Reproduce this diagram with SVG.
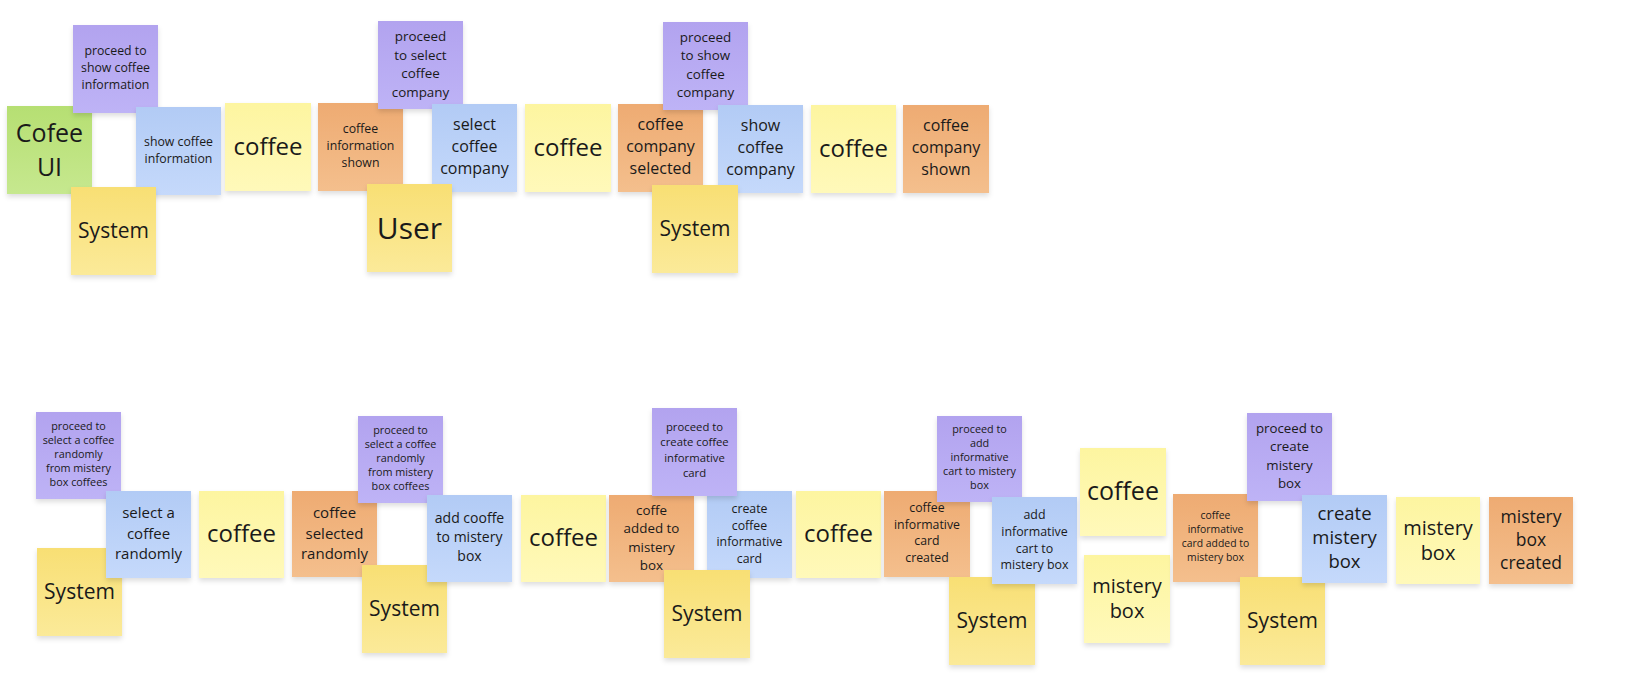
<svg xmlns="http://www.w3.org/2000/svg" width="1632" height="692" viewBox="0 0 1632 692">
<style>
text{font-family:"Open Sans","Noto Sans","Liberation Sans",sans-serif;fill:#1a1a1a;text-anchor:middle}
.n{filter:url(#sh)}
.y{fill:url(#gY)}.s{fill:url(#gS)}.g{fill:url(#gG)}.p{fill:url(#gP)}.b{fill:url(#gB)}.o{fill:url(#gO)}
</style>
<defs>
<filter id="sh" x="-20%" y="-20%" width="140%" height="150%"><feDropShadow dx="0" dy="3" stdDeviation="2.5" flood-color="#000" flood-opacity="0.13"/></filter>
<linearGradient id="gY" x1="0" y1="0" x2="0" y2="1"><stop offset="0" stop-color="#fdf5a0"/><stop offset="1" stop-color="#fff9ba"/></linearGradient>
<linearGradient id="gS" x1="0" y1="0" x2="0" y2="1"><stop offset="0" stop-color="#f8df74"/><stop offset="1" stop-color="#fbea99"/></linearGradient>
<linearGradient id="gG" x1="0" y1="0" x2="0" y2="1"><stop offset="0" stop-color="#b6df72"/><stop offset="1" stop-color="#c6e88f"/></linearGradient>
<linearGradient id="gP" x1="0" y1="0" x2="0" y2="1"><stop offset="0" stop-color="#b2a3ef"/><stop offset="1" stop-color="#beb3f6"/></linearGradient>
<linearGradient id="gB" x1="0" y1="0" x2="0" y2="1"><stop offset="0" stop-color="#b2cbf5"/><stop offset="1" stop-color="#c5d9fb"/></linearGradient>
<linearGradient id="gO" x1="0" y1="0" x2="0" y2="1"><stop offset="0" stop-color="#eeab72"/><stop offset="1" stop-color="#f4bf8d"/></linearGradient>
</defs>
<rect width="1632" height="692" fill="#ffffff"/>
<g id="connectors"/>

<g id="n-cofee-ui"><rect class="n g" x="7" y="106" width="85" height="88"/><text font-size="25"><tspan x="49.5" y="141.5">Cofee</tspan><tspan x="49.5" y="175.5">UI</tspan></text></g>
<g id="n-proceed-show-info"><rect class="n p" x="73" y="25" width="85" height="88"/><text font-size="12.3"><tspan x="115.5" y="55">proceed to</tspan><tspan x="115.5" y="72">show coffee</tspan><tspan x="115.5" y="89">information</tspan></text></g>
<g id="n-show-info"><rect class="n b" x="136" y="107" width="85" height="88"/><text font-size="12.3"><tspan x="178.5" y="146">show coffee</tspan><tspan x="178.5" y="163">information</tspan></text></g>
<g id="n-system-1"><rect class="n s" x="71" y="187" width="85" height="88"/><text font-size="21" x="113.5" y="238">System</text></g>
<g id="n-coffee-1"><rect class="n y" x="225" y="103" width="86" height="88"/><text font-size="24" x="268" y="155">coffee</text></g>

<g id="n-info-shown"><rect class="n o" x="318" y="103" width="85" height="88"/><text font-size="12.3"><tspan x="360.5" y="132.5">coffee</tspan><tspan x="360.5" y="149.5">information</tspan><tspan x="360.5" y="166.5">shown</tspan></text></g>
<g id="n-proceed-select-company"><rect class="n p" x="378" y="21" width="85" height="88"/><text font-size="13.4"><tspan x="420.5" y="41">proceed</tspan><tspan x="420.5" y="59.5">to select</tspan><tspan x="420.5" y="78">coffee</tspan><tspan x="420.5" y="96.5">company</tspan></text></g>
<g id="n-select-company"><rect class="n b" x="432" y="104" width="85" height="88"/><text font-size="16"><tspan x="474.5" y="130">select</tspan><tspan x="474.5" y="152">coffee</tspan><tspan x="474.5" y="174">company</tspan></text></g>
<g id="n-user"><rect class="n s" x="367" y="184" width="85" height="88"/><text font-size="30" x="409.5" y="239">User</text></g>
<g id="n-coffee-2"><rect class="n y" x="525" y="104" width="86" height="88"/><text font-size="24" x="568" y="156">coffee</text></g>

<g id="n-company-selected"><rect class="n o" x="618" y="104" width="85" height="88"/><text font-size="16"><tspan x="660.5" y="130">coffee</tspan><tspan x="660.5" y="152">company</tspan><tspan x="660.5" y="174">selected</tspan></text></g>
<g id="n-proceed-show-company"><rect class="n p" x="663" y="22" width="85" height="88"/><text font-size="13.4"><tspan x="705.5" y="42">proceed</tspan><tspan x="705.5" y="60.3">to show</tspan><tspan x="705.5" y="78.6">coffee</tspan><tspan x="705.5" y="96.9">company</tspan></text></g>
<g id="n-show-company"><rect class="n b" x="718" y="105" width="85" height="88"/><text font-size="16"><tspan x="760.5" y="131">show</tspan><tspan x="760.5" y="153">coffee</tspan><tspan x="760.5" y="175">company</tspan></text></g>
<g id="n-system-2"><rect class="n s" x="652" y="185" width="86" height="88"/><text font-size="21" x="695" y="236">System</text></g>
<g id="n-coffee-3"><rect class="n y" x="811" y="105" width="85" height="88"/><text font-size="24" x="853.5" y="157">coffee</text></g>
<g id="n-company-shown"><rect class="n o" x="903" y="105" width="86" height="88"/><text font-size="16"><tspan x="946" y="131">coffee</tspan><tspan x="946" y="153">company</tspan><tspan x="946" y="175">shown</tspan></text></g>

<g id="n-proceed-random-1"><rect class="n p" x="36" y="412" width="85" height="87"/><text font-size="10.8"><tspan x="78.5" y="430">proceed to</tspan><tspan x="78.5" y="444">select a coffee</tspan><tspan x="78.5" y="458">randomly</tspan><tspan x="78.5" y="472">from mistery</tspan><tspan x="78.5" y="486">box coffees</tspan></text></g>
<g id="n-system-3"><rect class="n s" x="37" y="548" width="85" height="88"/><text font-size="21" x="79.5" y="599">System</text></g>
<g id="n-select-random"><rect class="n b" x="106" y="491" width="85" height="87"/><text font-size="15"><tspan x="148.5" y="518">select a</tspan><tspan x="148.5" y="538.5">coffee</tspan><tspan x="148.5" y="559">randomly</tspan></text></g>
<g id="n-coffee-4"><rect class="n y" x="199" y="491" width="85" height="87"/><text font-size="24" x="241.5" y="542">coffee</text></g>

<g id="n-selected-random"><rect class="n o" x="292" y="491" width="85" height="86"/><text font-size="15"><tspan x="334.5" y="518">coffee</tspan><tspan x="334.5" y="538.5">selected</tspan><tspan x="334.5" y="559">randomly</tspan></text></g>
<g id="n-proceed-random-2"><rect class="n p" x="358" y="416" width="85" height="87"/><text font-size="10.8"><tspan x="400.5" y="434">proceed to</tspan><tspan x="400.5" y="448">select a coffee</tspan><tspan x="400.5" y="462">randomly</tspan><tspan x="400.5" y="476">from mistery</tspan><tspan x="400.5" y="490">box coffees</tspan></text></g>
<g id="n-system-4"><rect class="n s" x="362" y="565" width="85" height="88"/><text font-size="21" x="404.5" y="616">System</text></g>
<g id="n-add-coffee"><rect class="n b" x="427" y="495" width="85" height="87"/><text font-size="14"><tspan x="469.5" y="523">add cooffe</tspan><tspan x="469.5" y="542">to mistery</tspan><tspan x="469.5" y="561">box</tspan></text></g>
<g id="n-coffee-5"><rect class="n y" x="521" y="495" width="85" height="87"/><text font-size="24" x="563.5" y="546">coffee</text></g>

<g id="n-coffe-added"><rect class="n o" x="609" y="495" width="85" height="87"/><text font-size="13.4"><tspan x="651.5" y="515">coffe</tspan><tspan x="651.5" y="533.3">added to</tspan><tspan x="651.5" y="551.6">mistery</tspan><tspan x="651.5" y="569.9">box</tspan></text></g>
<g id="n-create-card"><rect class="n b" x="707" y="491" width="85" height="87"/><text font-size="12.3"><tspan x="749.5" y="513">create</tspan><tspan x="749.5" y="529.7">coffee</tspan><tspan x="749.5" y="546.4">informative</tspan><tspan x="749.5" y="563.1">card</tspan></text></g>
<g id="n-proceed-card"><rect class="n p" x="652" y="408" width="85" height="88"/><text font-size="11.3"><tspan x="694.5" y="431">proceed to</tspan><tspan x="694.5" y="446.3">create coffee</tspan><tspan x="694.5" y="461.6">informative</tspan><tspan x="694.5" y="476.9">card</tspan></text></g>
<g id="n-system-5"><rect class="n s" x="664" y="570" width="86" height="88"/><text font-size="21" x="707" y="621">System</text></g>
<g id="n-coffee-6"><rect class="n y" x="796" y="491" width="85" height="87"/><text font-size="24" x="838.5" y="542">coffee</text></g>

<g id="n-card-created"><rect class="n o" x="884" y="491" width="86" height="86"/><text font-size="12.3"><tspan x="927" y="512">coffee</tspan><tspan x="927" y="528.7">informative</tspan><tspan x="927" y="545.4">card</tspan><tspan x="927" y="562.1">created</tspan></text></g>
<g id="n-proceed-add-card"><rect class="n p" x="937" y="416" width="85" height="86"/><text font-size="10.8"><tspan x="979.5" y="433">proceed to</tspan><tspan x="979.5" y="447">add</tspan><tspan x="979.5" y="461">informative</tspan><tspan x="979.5" y="475">cart to mistery</tspan><tspan x="979.5" y="489">box</tspan></text></g>
<g id="n-system-6"><rect class="n s" x="949" y="577" width="86" height="88"/><text font-size="21" x="992" y="628">System</text></g>
<g id="n-add-card"><rect class="n b" x="992" y="497" width="85" height="87"/><text font-size="12.4"><tspan x="1034.5" y="519">add</tspan><tspan x="1034.5" y="535.8">informative</tspan><tspan x="1034.5" y="552.6">cart to</tspan><tspan x="1034.5" y="569.4">mistery box</tspan></text></g>
<g id="n-coffee-7"><rect class="n y" x="1080" y="448" width="86" height="88"/><text font-size="25" x="1123" y="500">coffee</text></g>
<g id="n-mistery-1"><rect class="n y" x="1084" y="555" width="86" height="88"/><text font-size="20"><tspan x="1127" y="593">mistery</tspan><tspan x="1127" y="618">box</tspan></text></g>

<g id="n-card-added"><rect class="n o" x="1173" y="494" width="85" height="88"/><text font-size="10.4"><tspan x="1215.5" y="519">coffee</tspan><tspan x="1215.5" y="533">informative</tspan><tspan x="1215.5" y="547">card added to</tspan><tspan x="1215.5" y="561">mistery box</tspan></text></g>
<g id="n-proceed-box"><rect class="n p" x="1247" y="413" width="85" height="88"/><text font-size="13.3"><tspan x="1289.5" y="433">proceed to</tspan><tspan x="1289.5" y="451.3">create</tspan><tspan x="1289.5" y="469.6">mistery</tspan><tspan x="1289.5" y="487.9">box</tspan></text></g>
<g id="n-system-7"><rect class="n s" x="1240" y="577" width="85" height="88"/><text font-size="21" x="1282.5" y="628">System</text></g>
<g id="n-create-box"><rect class="n b" x="1302" y="495" width="85" height="88"/><text font-size="18.5"><tspan x="1344.5" y="520">create</tspan><tspan x="1344.5" y="544">mistery</tspan><tspan x="1344.5" y="568">box</tspan></text></g>
<g id="n-mistery-2"><rect class="n y" x="1396" y="497" width="84" height="87"/><text font-size="20"><tspan x="1438" y="535">mistery</tspan><tspan x="1438" y="560">box</tspan></text></g>
<g id="n-box-created"><rect class="n o" x="1489" y="497" width="84" height="87"/><text font-size="17.5"><tspan x="1531" y="523">mistery</tspan><tspan x="1531" y="546">box</tspan><tspan x="1531" y="569">created</tspan></text></g>
</svg>
